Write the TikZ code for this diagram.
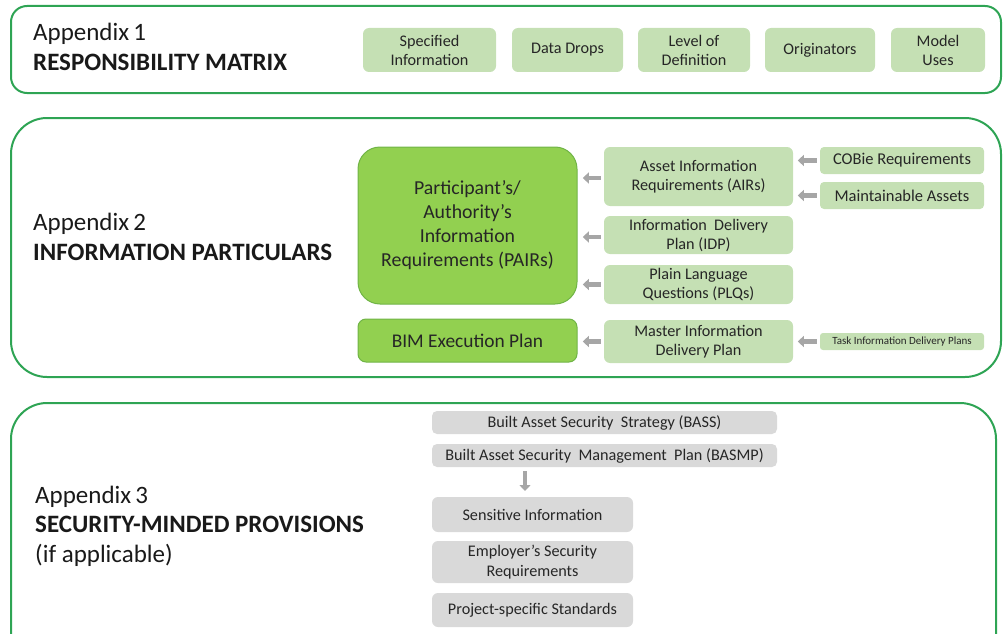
\documentclass[tikz,border=0pt]{standalone}
\usepackage{fontspec}
\setmainfont{Carlito}
\usetikzlibrary{arrows.meta}
\definecolor{frame}{RGB}{46,164,84}
\definecolor{lgreen}{RGB}{197,224,180}
\definecolor{bgreen}{RGB}{146,208,80}
\definecolor{bgreenedge}{RGB}{112,180,70}
\definecolor{lgrey}{RGB}{217,217,217}
\definecolor{agrey}{RGB}{166,166,166}
\tikzset{
  framebox/.style={draw=frame, line width=2pt, rounded corners=#1, inner sep=0pt, anchor=north west},
  gbox/.style={fill=lgreen, rounded corners=6pt, inner sep=0pt, align=center, font=\fontsize{16.2}{19}\selectfont, text=black!85},
  pbox/.style={fill=bgreen, draw=bgreenedge, line width=1pt, rounded corners=#1, inner sep=0pt, align=center, text=black!85},
  greybox/.style={fill=lgrey, rounded corners=5pt, inner sep=0pt, align=center, font=\fontsize{16.2}{19.5}\selectfont, text=black!85},
  title/.style={anchor=west, align=left, inner sep=0pt, font=\fontsize{25}{29.5}\selectfont, text=black!90},
  garrow/.style={draw=agrey, line width=4.5pt, -{Triangle[length=6pt,width=11pt]}}
}
\begin{document}
\begin{tikzpicture}[x=1pt,y=-1pt]
\useasboundingbox (0,0) rectangle (1004,634);
\begin{scope}
\clip (0,0) rectangle (1004,634);
% Frames
\node[framebox=16pt, minimum width=990, minimum height=87] (f1) at (10,5) {};
\node[framebox=36pt, minimum width=990, minimum height=259] (f2) at (10,117) {};
\node[framebox=36pt, minimum width=985, minimum height=270] (f3) at (10,402) {};

% Appendix 1
\node[title] (t1) at (33,47) {Appendix\,1\\\textbf{RESPONSIBILITY\ MATRIX}};
\node[gbox, minimum width=133, minimum height=44] (si) at (429.5,50) {Specified\\Information};
\node[gbox, minimum width=111, minimum height=44] (dd) at (567.5,50) {Data Drops};
\node[gbox, minimum width=112, minimum height=44] (lod) at (694,50) {Level of\\Definition};
\node[gbox, minimum width=110, minimum height=44] (or) at (820,50) {Originators};
\node[gbox, minimum width=94, minimum height=44] (mu) at (938,50) {Model\\Uses};

% Appendix 2
\node[title] (t2) at (33,237) {Appendix\,2\\\textbf{INFORMATION PARTICULARS}};
\node[pbox=22pt, minimum width=219, minimum height=157, font=\fontsize{19.8}{24}\selectfont] (pairs) at (467.5,225.5) {Participant’s/\\Authority’s\\Information\\Requirements (PAIRs)};
\node[pbox=8pt, minimum width=219, minimum height=43, font=\fontsize{19.4}{22}\selectfont] (bep) at (467.5,340.5) {BIM Execution Plan};
\node[gbox, minimum width=189, minimum height=59] (air) at (698.5,176.5) {Asset Information\\Requirements (AIRs)};
\node[gbox, minimum width=189, minimum height=38] (idp) at (698.5,235) {Information\ \ Delivery\\Plan (IDP)};
\node[gbox, minimum width=189, minimum height=39] (plq) at (698.5,284.5) {Plain Language\\Questions (PLQs)};
\node[gbox, minimum width=189, minimum height=43] (midp) at (698.5,341.5) {Master Information\\Delivery Plan};
\node[gbox, rounded corners=4pt, minimum width=164, minimum height=27, font=\fontsize{16.5}{19}\selectfont] (cobie) at (902,160.5) {COBie Requirements};
\node[gbox, rounded corners=4pt, minimum width=164, minimum height=27, font=\fontsize{16.5}{19}\selectfont] (ma) at (902,195.5) {Maintainable Assets};
\node[gbox, rounded corners=3pt, minimum width=164, minimum height=17, font=\fontsize{11}{12}\selectfont] (tidp) at (902,341.5) {Task Information Delivery Plans};

\draw[garrow] (air.west |- 0,178) ++(-3,0) -- ++(-18,0);
\draw[garrow] (idp.west) ++(-3,2) -- ++(-18,0);
\draw[garrow] (plq.west) ++(-3,0) -- ++(-18,0);
\draw[garrow] (midp.west) ++(-3,0) -- ++(-18,0);
\draw[garrow] (cobie.west) ++(-3,0) -- ++(-19,0);
\draw[garrow] (ma.west) ++(-3,0) -- ++(-19,0);
\draw[garrow] (tidp.west) ++(-3,0) -- ++(-19,0);

% Appendix 3
\node[title] (t3) at (35,526) {Appendix\,3\\\textbf{SECURITY-MINDED PROVISIONS}\\(if applicable)};
\node[greybox, minimum width=345, minimum height=23] (bass) at (604.5,422.5) {Built Asset Security\ \ Strategy (BASS)};
\node[greybox, minimum width=345, minimum height=23] (basmp) at (604.5,455.5) {Built Asset Security\ \ Management\ \ Plan (BASMP)};
\node[greybox, rounded corners=6pt, minimum width=201, minimum height=35] (si3) at (532.5,514.5) {Sensitive Information};
\node[greybox, rounded corners=6pt, minimum width=201, minimum height=42] (esr) at (532.5,562) {Employer’s Security\\Requirements};
\node[greybox, rounded corners=6pt, minimum width=201, minimum height=34] (pss) at (532.5,610) {Project-specific Standards};
\coordinate (bdown) at (525,471);
\draw[garrow] (bdown) -- ++(0,20);
\end{scope}
\end{tikzpicture}
\end{document}
